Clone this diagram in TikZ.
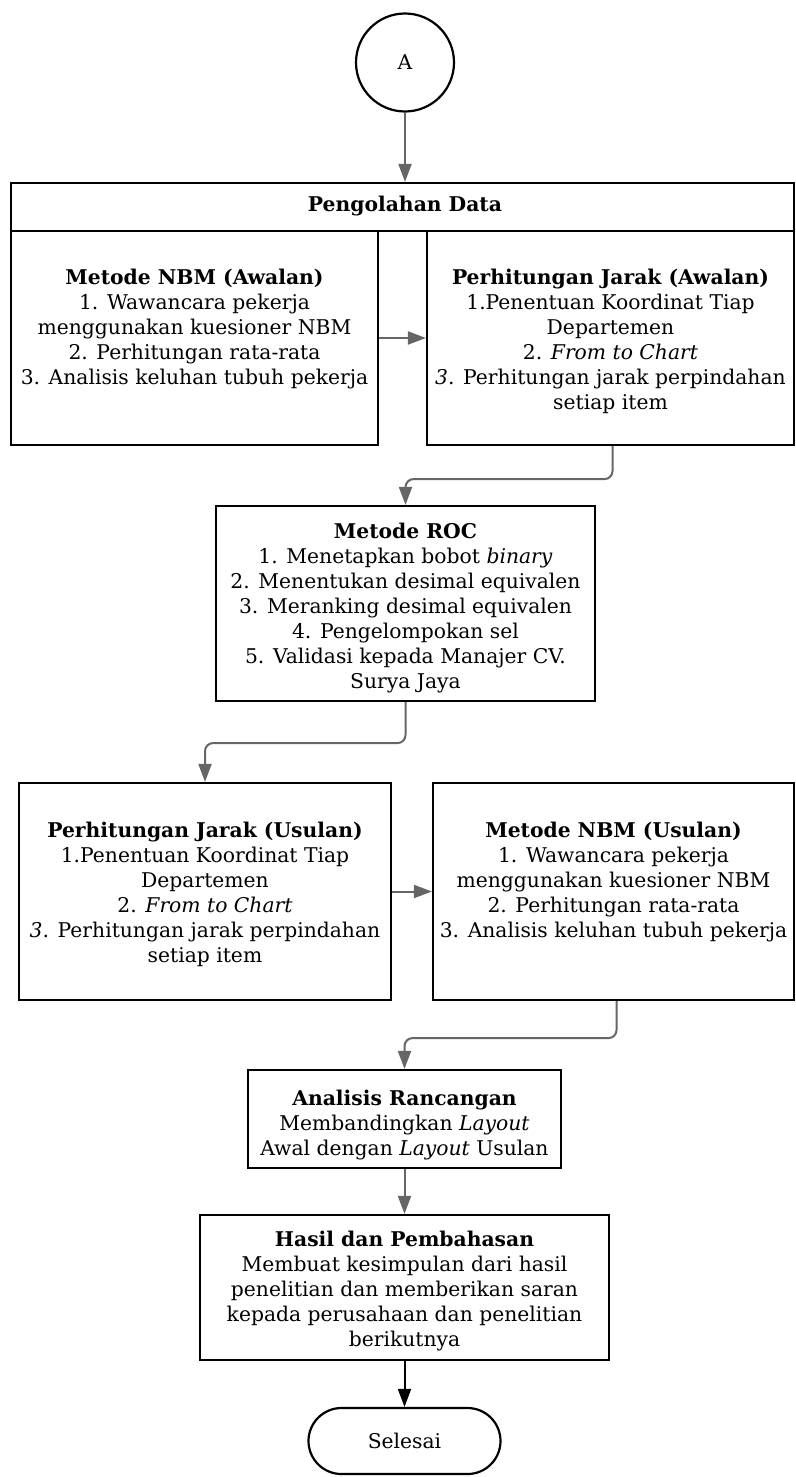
\documentclass[tikz,border=0pt]{standalone}
\usepackage{fontspec}
\setmainfont{DejaVu Serif}
\usetikzlibrary{arrows.meta}
\definecolor{linkgray}{HTML}{666666}
\begin{document}
\begin{tikzpicture}[x=1pt,y=-1pt,
  box/.style={draw=black, line width=2.2pt, rectangle, inner sep=0pt},
  txt/.style={align=center, font=\fontsize{20.3}{25}\selectfont, inner sep=0pt, anchor=north},
  conn/.style={draw=linkgray, line width=2pt, rounded corners=8pt,
    -{Triangle[length=18pt,width=13pt]}},
  connk/.style={draw=black, line width=2pt,
    -{Triangle[length=18pt,width=13pt]}}]
\useasboundingbox (0,0) rectangle (795,1477);

% start connector
\node[draw, circle, line width=2.2pt, minimum size=98pt, inner sep=0pt,
  font=\fontsize{20.3}{25}\selectfont] (a) at (405,62.5) {A};

% processing block
\node[box, minimum width=783pt, minimum height=48pt] (head) at (402.5,207) {};
\node[font=\fontsize{20.3}{25}\selectfont\bfseries] (headtxt) at (405,206) {Pengolahan Data};

\node[box, minimum width=367pt, minimum height=214pt] (nbm1) at (194.5,338) {};
\node[box, minimum width=367pt, minimum height=214pt] (jarak1) at (610.5,338) {};
\node[txt] (nbm1txt) at (194.5,269) {\textbf{Metode NBM (Awalan)}\\1. Wawancara pekerja\\menggunakan kuesioner NBM\\2. Perhitungan rata-rata\\3. Analisis keluhan tubuh pekerja};
\node[txt] (jarak1txt) at (610.5,269) {\textbf{Perhitungan Jarak (Awalan)}\\1.Penentuan Koordinat Tiap\\Departemen\\2. \textit{From to Chart}\\\textit{3}. Perhitungan jarak perpindahan\\setiap item};

% ROC
\node[box, minimum width=379pt, minimum height=195pt] (roc) at (405.5,603.5) {};
\node[txt] (roctxt) at (405.5,523) {\textbf{Metode ROC}\\1. Menetapkan bobot \textit{binary}\\2. Menentukan desimal equivalen\\3. Meranking desimal equivalen\\4. Pengelompokan sel\\5. Validasi kepada Manajer CV.\\Surya Jaya};

% proposed layout
\node[box, minimum width=372pt, minimum height=217pt] (jarak2) at (205,891.5) {};
\node[box, minimum width=361pt, minimum height=217pt] (nbm2) at (613.5,891.5) {};
\node[txt] (jarak2txt) at (205,822) {\textbf{Perhitungan Jarak (Usulan)}\\1.Penentuan Koordinat Tiap\\Departemen\\2. \textit{From to Chart}\\\textit{3}. Perhitungan jarak perpindahan\\setiap item};
\node[txt] (nbm2txt) at (613.5,822) {\textbf{Metode NBM (Usulan)}\\1. Wawancara pekerja\\menggunakan kuesioner NBM\\2. Perhitungan rata-rata\\3. Analisis keluhan tubuh pekerja};

% analysis and results
\node[box, minimum width=313pt, minimum height=98pt] (anl) at (404.5,1119) {};
\node[txt] (anltxt) at (404.5,1090) {\textbf{Analisis Rancangan}\\Membandingkan \textit{Layout}\\Awal dengan \textit{Layout} Usulan};
\node[box, minimum width=409pt, minimum height=145pt] (hasil) at (404.5,1287.5) {};
\node[txt] (hasiltxt) at (404.5,1231) {\textbf{Hasil dan Pembahasan}\\Membuat kesimpulan dari hasil\\penelitian dan memberikan saran\\kepada perusahaan dan penelitian\\berikutnya};

% end terminal
\node[draw, line width=2.2pt, rounded corners=33pt, minimum width=192pt, minimum height=66pt,
  font=\fontsize{20.3}{25}\selectfont] (end) at (404.5,1441) {Selesai};

% connectors
\draw[conn] (a.south) -- (head.north -| a.south);
\draw[conn] (nbm1.east) -- (jarak1.west);
\draw[conn] ([xshift=2pt]jarak1.south) -- ++(0,33) -| (roc.north);
\draw[conn] (roc.south) -- ++(0,41) -| (jarak2.north);
\draw[conn] (jarak2.east) -- (nbm2.west);
\draw[conn] ([xshift=3pt]nbm2.south) -- ++(0,37) -| (anl.north);
\draw[conn] (anl.south) -- (hasil.north);
\draw[connk] (hasil.south) -- (end.north);
\end{tikzpicture}
\end{document}
